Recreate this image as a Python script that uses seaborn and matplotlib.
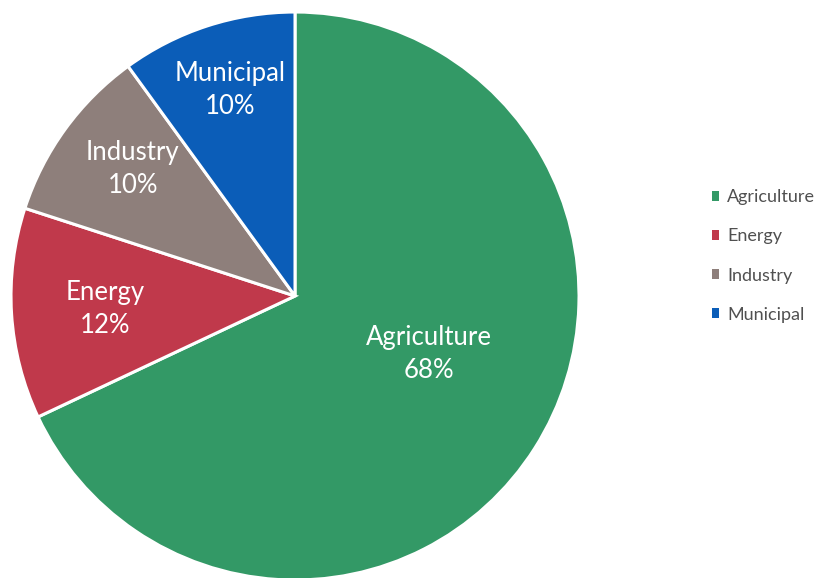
import numpy as np
import matplotlib
matplotlib.use("Agg")
import matplotlib.pyplot as plt
import seaborn as sns
from matplotlib.patches import Patch

# --- data ---
sectors = ["Agriculture", "Energy", "Industry", "Municipal"]
shares = [68, 12, 10, 10]
hex_colors = ["#339966", "#C0394B", "#8E7F7B", "#0B5DB8"]

# label placement (radius fraction, angle in degrees) per wedge
label_r = [0.515, 0.67, 0.725, 0.76]
label_ang = [-23.5, 184, 142, 107.5]

sns.set_theme(style="white")
plt.rcParams['font.family'] = ['Lato', 'DejaVu Sans']
palette = sns.color_palette(hex_colors)

fig = plt.figure(figsize=(8.18, 5.78), dpi=100)
ax = fig.add_axes([0.01345, -0.0035, 0.6944, 0.9827])

wedges, _ = ax.pie(shares, colors=palette, startangle=90, counterclock=False,
                   wedgeprops=dict(edgecolor="white", linewidth=2.2))
ax.set_xlim(-1, 1)
ax.set_ylim(-1, 1)
ax.set_aspect("equal")

for name, val, r, a in zip(sectors, shares, label_r, label_ang):
    t = np.deg2rad(a)
    ax.text(r * np.cos(t), r * np.sin(t), f"{name}\n{val}%", ha="center", va="center",
            color="white", fontsize=18.5, linespacing=1.4)

handles = [Patch(facecolor=c, edgecolor="none") for c in palette]
fig.legend(handles, sectors, loc="center left", bbox_to_anchor=(0.85, 0.557),
           frameon=False, fontsize=13, labelcolor="#505050",
           handlelength=0.44, handleheight=0.44, handletextpad=0.42,
           labelspacing=1.28)

fig.savefig("out.png", dpi=100)
